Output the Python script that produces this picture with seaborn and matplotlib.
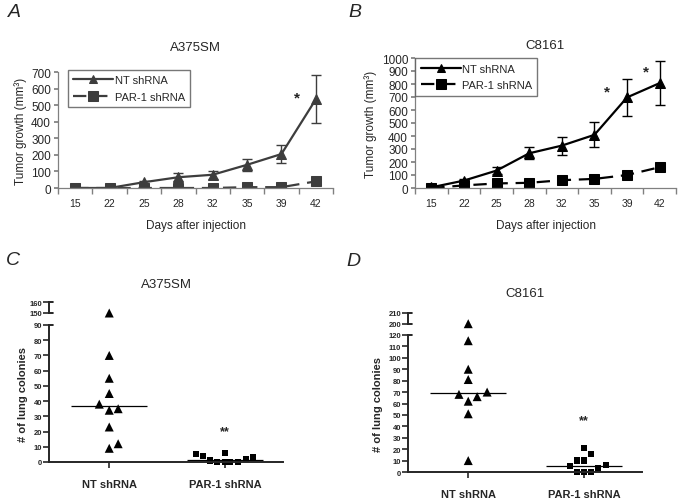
"""
Tumor growth curves (A, B) and lung colony counts (C, D) for PAR-1 knockdown.
"""

import numpy as np
import pandas as pd
import seaborn as sns
import matplotlib.pyplot as plt

sns.set_theme(style='ticks')
plt.rcParams['font.family'] = ['Liberation Sans', 'DejaVu Sans']

# ---- data ----
DAYS = ['15', '22', '25', '28', '32', '35', '39', '42']
GROUPS = ['NT shRNA', 'PAR-1 shRNA']

A_NT = [0, 0, 35, 65, 80, 140, 205, 535]
A_NT_ERR = [3, 3, 10, 25, 25, 35, 55, 145]
A_PAR = [0, 0, 0, 0, 0, 5, 5, 40]
A_PAR_ERR = [1, 1, 1, 1, 1, 3, 3, 6]

B_NT = [5, 57, 134, 267, 326, 409, 697, 807]
B_NT_ERR = [5, 12, 25, 45, 70, 95, 140, 170]
B_PAR = [0, 20, 35, 40, 60, 70, 100, 160]
B_PAR_ERR = [2, 4, 5, 5, 8, 8, 12, 20]

C_NT = [150, 70, 55, 45, 38, 34, 35, 23, 9, 12]
C_PAR = [5, 4, 1, 0, 0, 0, 0, 2, 3, 6]
D_NT = [200, 115, 90, 81, 68, 62, 66, 70, 51, 10]
D_PAR = [21, 16, 10, 10, 5, 3, 6, 0, 0, 0]

# horizontal jitter of the dots (layout only)
C_NT_OFF = [0, 0, 0, 0, -0.086, 0, 0.077, 0, 0, 0.077]
C_PAR_OFF = [-0.25, -0.19, -0.13, -0.07, 0, 0.04, 0.11, 0.18, 0.24, 0]
D_NT_OFF = [0, 0, 0, 0, -0.08, 0, 0.077, 0.163, 0, 0]
D_PAR_OFF = [0, 0.06, -0.063, 0, -0.12, 0.123, 0.187, -0.063, 0, 0.06]

W, H = 683, 502


def rect(x0, y_top, x1, y_bot):
    """Pixel box -> figure fraction rect."""
    return [x0 / W, 1 - y_bot / H, (x1 - x0) / W, (y_bot - y_top) / H]


def growth_panel(ax, nt, nt_err, par, par_err, ymax, color, title, title_pad, legend_anchor):
    pos = np.arange(len(DAYS))
    df = pd.DataFrame({
        'pos': np.tile(pos, 2),
        'value': nt + par,
        'group': np.repeat(GROUPS, len(DAYS)),
    })
    sns.lineplot(data=df, x='pos', y='value', hue='group', style='group',
                 markers={GROUPS[0]: '^', GROUPS[1]: 's'},
                 dashes={GROUPS[0]: '', GROUPS[1]: (6, 3.5)},
                 palette={g: color for g in GROUPS},
                 markersize=7, markeredgecolor=color, linewidth=1.6, ax=ax)
    ax.errorbar(pos, nt, yerr=nt_err, fmt='none', ecolor=color, elinewidth=1, capsize=3.5)
    ax.errorbar(pos, par, yerr=par_err, fmt='none', ecolor=color, elinewidth=1, capsize=3.5)

    handles, labels = ax.get_legend_handles_labels()
    for h, ms in zip(handles, [5.5, 6.5]):
        h.set_markersize(ms)
        h.set_markeredgecolor(color)
    ax.legend(handles, labels, loc='upper left', bbox_to_anchor=legend_anchor,
              fontsize=8, handlelength=3.6, frameon=True, fancybox=False,
              edgecolor='#555555', borderpad=0.5, labelspacing=0.6,
              handletextpad=0.1, borderaxespad=0)

    ax.set_xlim(-0.5, len(DAYS) - 0.5)
    ax.set_xticks(pos, DAYS)
    ax.set_xticks(np.arange(-0.5, len(DAYS), 1), minor=True)
    ax.tick_params(axis='x', which='major', length=0, pad=7, labelsize=7.5)
    ax.tick_params(axis='x', which='minor', length=4, color='#808080')
    ax.set_ylim(0, ymax)
    ax.set_yticks(np.arange(0, ymax + 1, 100))
    ax.tick_params(axis='y', length=3, color='#808080', labelsize=8.5, pad=2)
    for s in ['top', 'right']:
        ax.spines[s].set_visible(False)
    for s in ['left', 'bottom']:
        ax.spines[s].set_color('#808080')
        ax.spines[s].set_linewidth(0.9)
    ax.set_xlabel('Days after injection', fontsize=8.5, labelpad=8)
    ax.set_ylabel('Tumor growth (mm³)', fontsize=8.5, labelpad=3)
    ax.set_title(title, fontsize=9.5, pad=title_pad)


def colony_panel(fig, low_rect, high_rect, nt, nt_off, par, par_off,
                 low_max, high_lim, title, title_pad, star_y):
    ax_lo = fig.add_axes(low_rect)
    ax_hi = fig.add_axes(high_rect, sharex=ax_lo)

    nt_x = np.array(nt_off) + 0
    par_x = np.array(par_off) + 1
    nt_v = np.array(nt, dtype=float)
    par_v = np.array(par, dtype=float)

    for ax, keep in [(ax_lo, lambda v: v <= low_max), (ax_hi, lambda v: v >= high_lim[0])]:
        m = keep(nt_v)
        sns.scatterplot(x=nt_x[m], y=nt_v[m], marker='^', s=42, color='black',
                        edgecolor='none', ax=ax, clip_on=False, legend=False)
        m = keep(par_v)
        sns.scatterplot(x=par_x[m], y=par_v[m], marker='s', s=20, color='black',
                        edgecolor='none', ax=ax, clip_on=False, legend=False)

    for i, vals in enumerate([nt_v, par_v]):
        ax_lo.hlines(np.median(vals), i - 0.33, i + 0.33, color='black', lw=0.9)
    ax_lo.text(1, star_y, '**', ha='center', va='center', fontsize=9, fontweight='bold')

    ax_lo.set_xlim(-0.52, 1.5)
    ax_lo.set_xticks([0, 1], GROUPS)
    ax_lo.set_ylim(0, low_max)
    ax_lo.set_yticks(np.arange(0, low_max + 1, 10))
    ax_hi.set_ylim(*high_lim)
    ax_hi.set_yticks(list(high_lim))

    for ax in [ax_lo, ax_hi]:
        ax.spines['top'].set_visible(False)
        ax.spines['right'].set_visible(False)
        ax.spines['left'].set_linewidth(1.4)
        ax.tick_params(axis='y', length=4, width=1.2, labelsize=5.5, pad=1)
        for lab in ax.get_yticklabels():
            lab.set_fontweight('bold')
        ax.set_facecolor('none')
    ax_hi.spines['bottom'].set_visible(False)
    ax_hi.tick_params(axis='x', length=0, labelbottom=False)
    ax_lo.spines['bottom'].set_linewidth(1.4)
    ax_lo.tick_params(axis='x', length=4, width=1.2, labelsize=8, pad=8)
    for lab in ax_lo.get_xticklabels():
        lab.set_fontweight('bold')

    # small caps at the broken ends of the y axis
    cap = 4 / (low_rect[2] * W)
    for ax, ys in [(ax_lo, [1]), (ax_hi, [0, 1])]:
        for y in ys:
            ax.plot([0, cap], [y, y], transform=ax.transAxes, color='black',
                    lw=1.2, clip_on=False)

    ax_lo.set_ylabel('# of lung colonies', fontsize=8, fontweight='bold', labelpad=4)
    ax_hi.set_title(title, fontsize=9.5, pad=title_pad)


fig = plt.figure(figsize=(W / 100, H / 100), dpi=100)
fig.patch.set_facecolor('white')

ax_a = fig.add_axes(rect(58, 73, 333, 189))
growth_panel(ax_a, A_NT, A_NT_ERR, A_PAR, A_PAR_ERR, 700, '#3d3d3d',
             'A375SM', 16, (0.036, 1.02))
ax_a.text(6.45, 545, '*', ha='center', va='center', fontsize=11, fontweight='bold', color='#222222')

ax_b = fig.add_axes(rect(415, 59, 676, 189))
growth_panel(ax_b, B_NT, B_NT_ERR, B_PAR, B_PAR_ERR, 1000, 'black',
             'C8161', 7, (0.0, 1.0))
ax_b.text(5.37, 746, '*', ha='center', va='center', fontsize=11, fontweight='bold')
ax_b.text(6.59, 900, '*', ha='center', va='center', fontsize=11, fontweight='bold')

colony_panel(fig, rect(49, 326, 283, 463), rect(49, 303, 283, 314),
             C_NT, C_NT_OFF, C_PAR, C_PAR_OFF, 90, (150, 160),
             'A375SM', 11, 20)
colony_panel(fig, rect(408, 336, 642, 473), rect(408, 314, 642, 324.7),
             D_NT, D_NT_OFF, D_PAR, D_PAR_OFF, 120, (200, 210),
             'C8161', 12, 45)

for letter, x, y in [('A', 8, 4), ('B', 348, 4), ('C', 6, 252), ('D', 346, 253)]:
    fig.text(x / W, 1 - y / H, letter, fontsize=14, style='italic', va='top', ha='left')

plt.savefig('out.png', dpi=100)
plt.close()
